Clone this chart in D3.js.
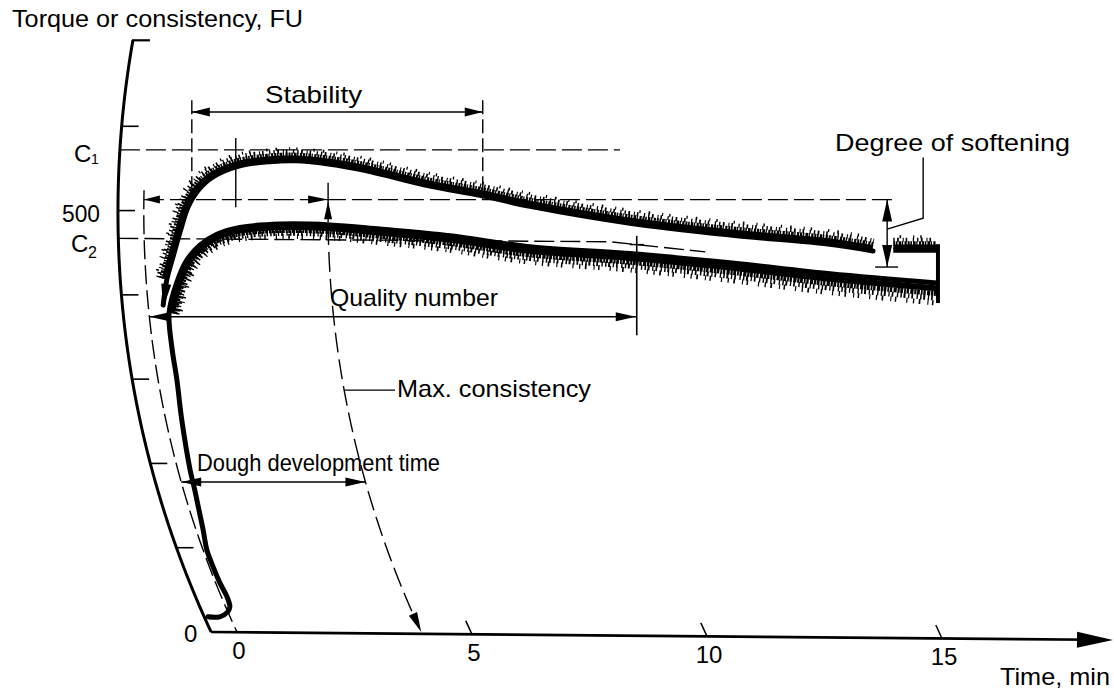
<!DOCTYPE html>
<html><head><meta charset="utf-8">
<script src="https://cdn.jsdelivr.net/npm/d3@7"></script>
<style>body{margin:0;background:#fff}svg{display:block}text{font-family:"Liberation Sans",Arial,sans-serif;fill:#000}</style>
</head><body><svg id="c" width="1114" height="693"></svg>
<script>
// ---------------- data (time in min, consistency in FU) ----------------
const stemT = [-0.47,-0.22,0.00,0.09,0.12,0.09,0.08,0.08,0.15,0.20,0.24,0.26,0.34,0.40,0.40,0.43];
const stemV = [18,18,24,30,42,58,77,97,121,145,169,192,252,299,338,379];
const lowerT = [0.65,0.90,1.18,1.55,2.04,2.90,3.96,5.02,6.51,8.20,10.32,12.44,14.56,16.82];
const lowerV = [415,442,459,472,480,484,483,478,470,457,449,438,425,414];
const upperT = [0.32,0.44,0.60,0.77,0.94,1.15,1.46,2.02,2.66,3.19,3.94,4.65,6.08,7.15,8.22,10.34,12.47,14.59,15.50];
const upperV = [388,418,445,475,504,524,540,553,558,559,555,548,529,518,505,485,471,460,452];
const upperTailT = [15.93,16.86];
const upperTailV = [453,453];
const yTicks = [100,200,300,400,500,600];
const xTicks = [0,5,10,15];
const xTickLabels = ["0","5","10","15"];
const C1 = 572, C2 = 467, line500 = 513;
const c2LineT = [-0.55,9.91,11.93];
const c2LineV = [467,463,451];
const tAxis = -0.55, tStart = 0, tMax = 3.92, tMark = 1.94;
const tStabA = 1.02, tStabB = 7.21, tQuality = 10.37, tSoft = 15.81, tC1End = 10.09, t500End = 15.98;
const vStab = 617, vDough = 178, vQuality = 374, vMaxLabel = 287, vSoftBottom = 433;

(function(){
// ---------------- scales / projection (pen-arm arcs) ----------------
const svg = d3.select('#c');
const g = svg.append('g');
const ink = '#000';
const x = d3.scaleLinear().domain([0,15]).range([237,942]);
const y = d3.scaleLinear().domain([0,700]).range([632,42]);
const R = 993, arcCY = 212;
const base0 = Math.sqrt(R*R-(y(0)-arcCY)**2);
function P(t,v){ const yy=y(v); return [x(t)-(Math.sqrt(R*R-(yy-arcCY)**2)-base0), yy]; }
const zip = (a,b)=>a.map((t,i)=>[t,b[i]]);
const curveLine = d3.line().x(d=>P(d[0],d[1])[0]).y(d=>P(d[0],d[1])[1]).curve(d3.curveCatmullRom.alpha(0.5));
const poly = d3.line();

function seg(a,b,w=1.4,dash=null){ const p=g.append('path').attr('d',poly([a,b])).attr('stroke',ink).attr('stroke-width',w).attr('fill','none'); if(dash)p.attr('stroke-dasharray',dash); return p;}
function head(tip,from,len=19,hw=4){ const dx=tip[0]-from[0],dy=tip[1]-from[1],n=Math.hypot(dx,dy),ux=dx/n,uy=dy/n; const bx=tip[0]-ux*len,by=tip[1]-uy*len;
  g.append('path').attr('d',`M${tip[0]},${tip[1]}L${bx-uy*hw},${by+ux*hw}L${bx+uy*hw},${by-ux*hw}Z`).attr('fill',ink);}
function arc(t,v0,v1,w,dash){ const pts=d3.range(v0,v1,(v1>v0?4:-4)).concat([v1]).map(v=>P(t,v)); const p=g.append('path').attr('d',poly(pts)).attr('stroke',ink).attr('stroke-width',w).attr('fill','none'); if(dash)p.attr('stroke-dasharray',dash); return pts;}
function txt(s,x0,yb,size,len,anchor='start'){ const t=g.append('text').attr('x',x0).attr('y',yb).attr('font-size',size).attr('text-anchor',anchor).text(s); if(len)t.attr('textLength',len).attr('lengthAdjust','spacingAndGlyphs'); return t;}

// ---------------- axes ----------------
arc(tAxis,0,702,3);
const axTop = P(tAxis,702);
seg([axTop[0]-1,axTop[1]],[axTop[0]+17,axTop[1]],2.2);
yTicks.forEach(v=>{ const p=P(tAxis,v); seg([p[0],p[1]],[p[0]+17,p[1]],1.6); });
const ax0 = P(tAxis,0), axEnd=[1113,640];
const axisY = xx => ax0[1]+(xx-ax0[0])*(axEnd[1]-ax0[1])/(axEnd[0]-ax0[0]);
seg(ax0,[axEnd[0]-20,axisY(axEnd[0]-20)],2.6);
head(axEnd,[axEnd[0]-40,axisY(axEnd[0]-40)],36,8);
xTicks.forEach((t,i)=>{ if(t>0){ const b=P(t,0), a=P(t,16), sh=axisY(b[0])-b[1]; seg([a[0],a[1]+sh],[b[0],b[1]+sh],1.5);}
  txt(xTickLabels[i], x(t)+2, axisY(x(t))+26.5, 24, null,'middle'); });
txt("0",184,642,24);
txt("Time, min",1000,685,24,110);
txt("Torque or consistency, FU",12,27,24,291);
txt("C",74,162,24); txt("1",91,164,14);
txt("500",62,222,24,38);
txt("C",71,252,24); txt("2",88,258,16);

// ---------------- reference lines ----------------
const dashA = "20 6";
seg(P(tAxis,C1),P(tC1End,C1),1.4,dashA);
const c2pts = zip(c2LineT,c2LineV).map(d=>P(d[0],d[1]));
g.append('path').attr('d',poly(c2pts)).attr('stroke',ink).attr('stroke-width',1.4).attr('fill','none').attr('stroke-dasharray',dashA);
const p500a=P(tStart,line500), p500b=P(t500End,line500);
seg(p500a,p500b,1.4,dashA);
head(p500a,[p500a[0]+30,p500a[1]],16,4);
const pMax500 = P(tMax,line500);
head(pMax500,[pMax500[0]-30,pMax500[1]],20,4);

arc(tStart,524,0,1.4,"19 6");
const xMc = P(tMax,486)[0];
seg([xMc,y(533)],[xMc,y(486)],1.4);
head([xMc,y(511)],[xMc,y(486)],18,4);
arc(tMax,483,6,1.4,"20 7");
head(P(tMax,0),P(tMax,25),20,4.5);
const mcl = P(tMax,vMaxLabel);
seg(mcl,[395,mcl[1]],1.4);
txt("Max. consistency",397,397,24,194);

const xMark = P(tMark,545)[0];
seg([xMark,y(586)],[xMark,y(504)],1.4);

const xA=P(tStabA,line500)[0], xB=P(tStabB,line500)[0];
seg([xA,y(631)],[xA,y(line500)],1.4,"14 5");
seg([xB,y(631)],[xB,y(line500)],1.4,"14 5");
seg([xA,y(vStab)],[xB,y(vStab)],1.4);
head([xA,y(vStab)],[xB,y(vStab)],18,4.5);
head([xB,y(vStab)],[xA,y(vStab)],18,4.5);
txt("Stability",265,103,24,97);

const dA=P(tStart,vDough), dB=P(tMax,vDough);
seg(dA,dB,1.4); head(dA,dB,20,4.5); head(dB,dA,20,4.5);
txt("Dough development time",197,471,24,243);

const qA=P(tStart,vQuality), xQ=P(tQuality,vQuality)[0];
seg(qA,[xQ,qA[1]],1.4); head(qA,[xQ,qA[1]],20,4.5); head([xQ-1,qA[1]],qA,20,4.5);
seg([xQ,y(470)],[xQ,y(352)],1.6);
const c2y = (()=>{ for(let i=0;i<c2pts.length-1;i++){const a=c2pts[i],b=c2pts[i+1]; if(xQ>=a[0]&&xQ<=b[0]) return a[1]+(xQ-a[0])*(b[1]-a[1])/(b[0]-a[0]);} return c2pts[0][1];})();
seg([xQ-7,c2y],[xQ+7,c2y],1.4);
txt("Quality number",330,306,24,168);

const xS=P(tSoft,470)[0];
seg([xS,y(line500)],[xS,y(vSoftBottom)],1.4);
head([xS,y(line500)],[xS,y(vSoftBottom)],22,5);
head([xS,y(vSoftBottom)],[xS,y(line500)],22,5);
seg([xS-12,y(vSoftBottom)],[xS+11,y(vSoftBottom)],1.4);
g.append('path').attr('d',poly([[xS,y(478)],[xS+36,y(491)],[xS+36,y(563)]])).attr('stroke',ink).attr('stroke-width',1.4).attr('fill','none');
txt("Degree of softening",835,151,24,235);

// ---------------- the farinogram curve ----------------
const stemPts = zip(stemT,stemV), lowerPts = zip(lowerT,lowerV), upperPts = zip(upperT,upperV), tailPts = zip(upperTailT,upperTailV);
function fuzz(data, side, layers, grow){
  const tmp = g.append('path').attr('d',curveLine(data)).attr('fill','none').attr('stroke','none');
  const node = tmp.node(), L=node.getTotalLength(), pts=[];
  for(let s=0;s<=L;s+=1){ const p=node.getPointAtLength(s), q=node.getPointAtLength(Math.min(L,s+2)), r=node.getPointAtLength(Math.max(0,s-2));
    let tx=q.x-r.x, ty=q.y-r.y; const n=Math.hypot(tx,ty)||1; tx/=n; ty/=n;
    const k = grow ? (grow[0]+(grow[1]-grow[0])*s/L) : 1;
    pts.push(side<0?{x:p.x,y:p.y,nx:ty*k,ny:-tx*k}:{x:p.x,y:p.y,nx:-ty*k,ny:tx*k}); }
  tmp.remove();
  layers.forEach(l=>{ const pth=g.append('path').attr('d',d3.line().x(d=>d.x+d.nx*l.off).y(d=>d.y+d.ny*l.off)(pts))
    .attr('fill','none').attr('stroke',ink).attr('stroke-width',l.w).attr('stroke-linejoin','round');
    if(l.dash) pth.attr('stroke-dasharray',l.dash).attr('stroke-dashoffset',l.o||0); });
}
const upFuzz = [
  {off:3.5,w:4.5},
  {off:7,w:4,dash:"2 0.7 1.6 1.1 2.6 0.6 1.3 1.4 2.2 0.9"},
  {off:10.5,w:4,dash:"1.4 2.4 1.8 3.8 1.1 1.9 1.6 5.5 1.3 3"},
  {off:13.5,w:3,dash:"1.3 8 1.6 12 1.1 6 1.4 16",o:3}];
const lowFuzz = [
  {off:5,w:6},
  {off:10,w:5,dash:"2.2 0.6 2.8 1 1.8 0.7 2.4 1.3 3.2 0.8"},
  {off:14.5,w:5,dash:"1.5 1.6 2 2.6 1.3 2 1.7 3.5 1.4 2.2"},
  {off:19,w:5,dash:"1.3 4.5 1.7 7 1.1 3.5 1.5 10 1.2 5.5",o:2}];
fuzz(upperPts.slice(1), -1, upFuzz, [0.85,1.0]);
fuzz(tailPts, -1, upFuzz, [1,1]);
fuzz([stemPts[stemPts.length-1]].concat(lowerPts), 1, lowFuzz, [0.55,1.05]);

g.append('path').attr('d',curveLine(stemPts.concat(lowerPts))).attr('fill','none').attr('stroke',ink).attr('stroke-width',5).attr('stroke-linejoin','round').attr('stroke-linecap','round');
g.append('path').attr('d',curveLine(upperPts)).attr('fill','none').attr('stroke',ink).attr('stroke-width',5).attr('stroke-linecap','round');
g.append('path').attr('d',curveLine(tailPts)).attr('fill','none').attr('stroke',ink).attr('stroke-width',5);
const u0=P(upperPts[0][0],upperPts[0][1]), u1=P(upperPts[1][0],upperPts[1][1]);
head([u0[0],u0[1]+3],[u1[0],u1[1]],24,5);
const te=P(tailPts[1][0],tailPts[1][1]), le=P(lowerPts[lowerPts.length-1][0],lowerPts[lowerPts.length-1][1]);
seg([te[0]+1,te[1]-6],[te[0]+1,le[1]+20],4);
})();
</script></body></html>
